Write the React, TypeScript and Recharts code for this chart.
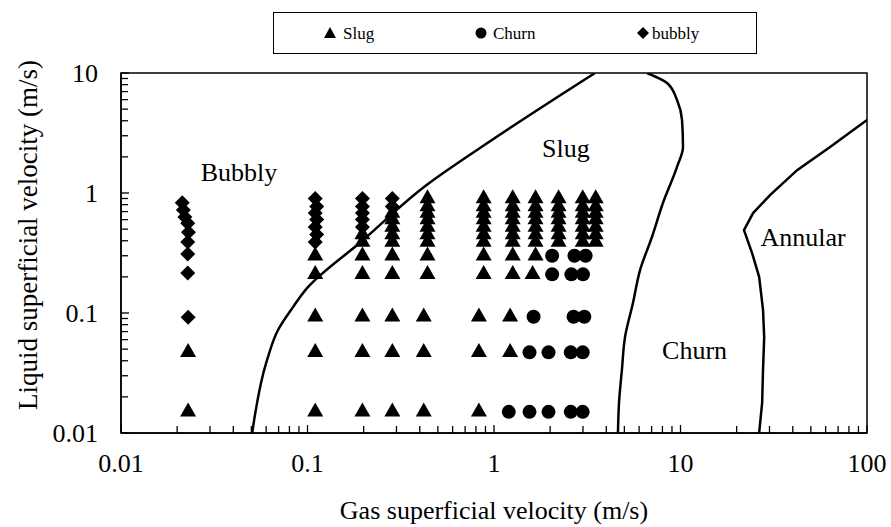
import React from 'react';
import { ComposedChart, Scatter, XAxis, YAxis, ReferenceArea, ReferenceDot } from 'recharts';

const FONT = "'Liberation Serif'";

// ---------- axis ticks ----------
const xMajorTicks = [0.01, 0.1, 1, 10, 100];
const xTickLabels = ['0.01', '0.1', '1', '10', '100'];
const yMajorTicks = [0.01, 0.1, 1, 10];
const yTickLabels = ['0.01', '0.1', '1', '10'];
const minorMultipliers = [2, 3, 4, 5, 6, 7, 8, 9];

// ---------- measured points [Ug, Ul] ----------
const bubblyPoints: number[][] = [
  [0.0213, 0.83], [0.0216, 0.72], [0.022, 0.63], [0.0228, 0.56], [0.023, 0.47],
  [0.0228, 0.39], [0.0228, 0.31], [0.0228, 0.215], [0.0229, 0.092],
  [0.110, 0.90], [0.112, 0.77], [0.110, 0.68], [0.112, 0.60], [0.110, 0.52], [0.112, 0.45], [0.110, 0.39],
  [0.197, 0.90], [0.197, 0.77], [0.197, 0.68], [0.197, 0.60], [0.197, 0.52],
  [0.285, 0.90], [0.285, 0.77],
];

const slugPoints: number[][] = [
  [0.0229, 0.047], [0.0229, 0.015],
  [0.110, 0.30], [0.110, 0.21], [0.110, 0.093], [0.110, 0.047], [0.110, 0.015],
  [0.197, 0.45], [0.197, 0.39], [0.197, 0.30], [0.197, 0.21], [0.197, 0.093], [0.197, 0.047], [0.197, 0.015],
  [0.285, 0.68], [0.285, 0.60], [0.285, 0.52], [0.285, 0.45], [0.285, 0.39], [0.285, 0.30], [0.285, 0.21],
  [0.285, 0.093], [0.285, 0.047], [0.285, 0.015],
  [0.44, 0.90], [0.44, 0.77], [0.44, 0.68], [0.44, 0.60], [0.44, 0.52], [0.44, 0.45], [0.44, 0.39], [0.44, 0.30], [0.44, 0.21],
  [0.42, 0.093], [0.42, 0.047], [0.42, 0.015],
  [0.88, 0.90], [0.88, 0.77], [0.88, 0.68], [0.88, 0.60], [0.88, 0.52], [0.88, 0.45], [0.88, 0.39], [0.88, 0.30], [0.88, 0.21],
  [0.83, 0.093], [0.83, 0.047], [0.83, 0.015],
  [1.26, 0.90], [1.26, 0.77], [1.26, 0.68], [1.26, 0.60], [1.26, 0.52], [1.26, 0.45], [1.26, 0.39], [1.26, 0.30], [1.26, 0.21],
  [1.22, 0.093], [1.22, 0.047],
  [1.67, 0.90], [1.67, 0.77], [1.67, 0.68], [1.67, 0.60], [1.67, 0.52], [1.67, 0.45], [1.67, 0.39], [1.67, 0.30], [1.61, 0.21],
  [2.22, 0.90], [2.22, 0.77], [2.22, 0.68], [2.22, 0.60], [2.22, 0.52], [2.22, 0.45], [2.22, 0.39],
  [2.99, 0.90], [2.99, 0.77], [2.99, 0.68], [2.99, 0.60], [2.99, 0.52], [2.99, 0.45], [2.99, 0.39],
  [3.51, 0.90], [3.51, 0.77], [3.51, 0.68], [3.51, 0.60], [3.51, 0.52], [3.51, 0.45], [3.51, 0.39],
];

const churnPoints: number[][] = [
  [2.05, 0.30], [2.7, 0.30], [3.1, 0.30],
  [2.05, 0.21], [2.6, 0.21], [3.0, 0.21],
  [1.63, 0.093], [2.67, 0.093], [3.05, 0.093],
  [1.55, 0.047], [1.96, 0.047], [2.58, 0.047], [2.99, 0.047],
  [1.2, 0.015], [1.55, 0.015], [1.96, 0.015], [2.58, 0.015], [2.99, 0.015],
];

// ---------- transition boundaries [Ug, Ul] ----------
const bubblySlugBoundary: number[][] = [
  [0.0505, 0.01], [0.0607, 0.0406], [0.0695, 0.0722], [0.0836, 0.112], [0.0994, 0.161],
  [0.196, 0.398], [0.437, 1.17], [0.841, 2.37], [3.48, 10],
];

const slugChurnBoundary: number[][] = [
  [6.61, 10], [8.47, 8.26], [9.58, 5.96], [10.19, 4.06], [10.31, 2.42], [9.58, 1.65],
  [8.05, 0.825], [7.03, 0.43], [6.07, 0.228], [5.56, 0.121], [5.04, 0.063],
  [4.85, 0.0335], [4.68, 0.0178], [4.62, 0.01],
];

const annularBoundary: number[][] = [
  [100, 4.06], [63.4, 2.42], [42.2, 1.55], [30.2, 0.96], [24.5, 0.68], [21.9, 0.49],
  [24.2, 0.316], [26.4, 0.2], [27.7, 0.106], [28.1, 0.063], [27.7, 0.0335], [27.4, 0.0178], [26.4, 0.01],
];

// ---------- region labels [Ug, Ul] ----------
const regionLabels: { text: string; x: number; y: number }[] = [
  { text: 'Bubbly', x: 0.0429, y: 1.5 },
  { text: 'Slug', x: 2.43, y: 2.37 },
  { text: 'Churn', x: 11.9, y: 0.049 },
  { text: 'Annular', x: 45.4, y: 0.43 },
];

const toPts = (a: number[][]) => a.map(([x, y]) => ({ x, y }));

const decadeTicks = (majors: number[]) => {
  const out: number[] = [...majors];
  majors.slice(0, -1).forEach((m) => minorMultipliers.forEach((k) => out.push(+(m * k).toPrecision(6))));
  return out.sort((a, b) => a - b);
};
const xTicks = decadeTicks(xMajorTicks);
const yTicks = decadeTicks(yMajorTicks);

const majorIndex = (v: number, majors: number[]) =>
  majors.findIndex((m) => Math.abs(Math.log10(m) - Math.log10(v)) < 1e-6);

const textStyle = { fontFamily: FONT };

const XTick = (props: any) => {
  const { x, y, payload } = props;
  const idx = majorIndex(payload.value, xMajorTicks);
  return (
    <g>
      <line x1={x} x2={x} y1={y} y2={y - (idx >= 0 ? 8 : 7)} stroke="#000" strokeWidth={1.3} />
      {idx >= 0 && (
        <text x={x} y={y + 30} dy="0.35em" textAnchor="middle" fontSize={26} style={textStyle} fill="#000">
          {xTickLabels[idx]}
        </text>
      )}
    </g>
  );
};

const YTick = (props: any) => {
  const { x, y, payload } = props;
  const idx = majorIndex(payload.value, yMajorTicks);
  return (
    <g>
      <line x1={x} x2={x + (idx >= 0 ? 8 : 7)} y1={y} y2={y} stroke="#000" strokeWidth={1.3} />
      {idx >= 0 && (
        <text x={x - 23} y={y} dy="0.35em" textAnchor="end" fontSize={26} style={textStyle} fill="#000">
          {yTickLabels[idx]}
        </text>
      )}
    </g>
  );
};

const Triangle = (props: any) => {
  const { cx, cy } = props;
  if (cx == null || cy == null) return <g />;
  return <polygon points={`${cx},${cy - 9.3} ${cx - 8},${cy + 4.7} ${cx + 8},${cy + 4.7}`} fill="#000" />;
};
const Dot = (props: any) => {
  const { cx, cy } = props;
  if (cx == null || cy == null) return <g />;
  return <circle cx={cx} cy={cy} r={7} fill="#000" />;
};
const Diamond = (props: any) => {
  const { cx, cy } = props;
  if (cx == null || cy == null) return <g />;
  return <polygon points={`${cx},${cy - 7.5} ${cx + 7.5},${cy} ${cx},${cy + 7.5} ${cx - 7.5},${cy}`} fill="#000" />;
};
const NoShape = () => <g />;

const YTitle = (props: any) => {
  const { viewBox } = props;
  const cx = viewBox.x + 18;
  const cy = viewBox.y + viewBox.height / 2 - 18;
  return (
    <text x={cx} y={cy} transform={`rotate(-90 ${cx} ${cy})`} textAnchor="middle" dy="0.35em" fontSize={27} style={textStyle} fill="#000">
      Liquid superficial velocity (m/s)
    </text>
  );
};

const XTitle = (props: any) => {
  const { viewBox } = props;
  const cx = viewBox.x + viewBox.width / 2;
  const cy = viewBox.y + viewBox.height - 17;
  return (
    <text x={cx} y={cy} textAnchor="middle" dy="0.35em" fontSize={26} style={textStyle} fill="#000">
      Gas superficial velocity (m/s)
    </text>
  );
};

const RegionLabel = (text: string) => (props: any) => {
  const { viewBox } = props;
  const cx = viewBox.x + (viewBox.width || 0) / 2;
  const cy = viewBox.y + (viewBox.height || 0) / 2;
  return (
    <text x={cx} y={cy} textAnchor="middle" dy="0.35em" fontSize={26} style={textStyle} fill="#000">
      {text}
    </text>
  );
};

const legendItems = [
  { name: 'Slug', icon: 'triangle', iconX: 330, textX: 343 },
  { name: 'Churn', icon: 'circle', iconX: 481, textX: 493 },
  { name: 'bubbly', icon: 'diamond', iconX: 643, textX: 652 },
];

const LegendBox = () => (
  <svg width={891} height={60} style={{ position: 'absolute', left: 0, top: 0 }}>
    <rect x={273.5} y={12.5} width={483} height={41} fill="#fff" stroke="#000" strokeWidth={1} />
    {legendItems.map((it) => (
      <g key={it.name}>
        {it.icon === 'triangle' && (
          <polygon points={`${it.iconX},${27} ${it.iconX - 6},${38} ${it.iconX + 6},${38}`} fill="#000" />
        )}
        {it.icon === 'circle' && <circle cx={it.iconX} cy={33} r={5.5} fill="#000" />}
        {it.icon === 'diamond' && (
          <polygon points={`${it.iconX},${27} ${it.iconX + 6},${33} ${it.iconX},${39} ${it.iconX - 6},${33}`} fill="#000" />
        )}
        <text x={it.textX} y={39} fontSize={17} style={textStyle} fill="#000">
          {it.name}
        </text>
      </g>
    ))}
  </svg>
);

export default function App() {
  return (
    <div style={{ position: 'absolute', left: 0, top: 0, width: 891, height: 527, background: '#fff' }}>
      <ComposedChart width={891} height={527} margin={{ top: 73, right: 24, bottom: 0, left: 10 }}>
        <XAxis
          dataKey="x"
          type="number"
          scale="log"
          domain={[0.01, 100]}
          allowDataOverflow
          ticks={xTicks}
          interval={0}
          tick={<XTick />}
          tickLine={false}
          tickSize={0}
          tickMargin={0}
          axisLine={{ stroke: '#000', strokeWidth: 1.5 }}
          height={94}
          label={<XTitle />}
        />
        <YAxis
          dataKey="y"
          type="number"
          scale="log"
          domain={[0.01, 10]}
          allowDataOverflow
          ticks={yTicks}
          interval={0}
          tick={<YTick />}
          tickLine={false}
          tickSize={0}
          tickMargin={0}
          axisLine={{ stroke: '#000', strokeWidth: 1.5 }}
          width={111}
          label={<YTitle />}
        />
        <ReferenceArea x1={0.01} x2={100} y1={0.01} y2={10} fill="none" stroke="#000" strokeWidth={1.5} ifOverflow="visible" />
        <Scatter data={toPts(bubblySlugBoundary)} line={{ stroke: '#000', strokeWidth: 2.5 }} lineJointType="monotoneY" shape={<NoShape />} isAnimationActive={false} />
        <Scatter data={toPts(slugChurnBoundary)} line={{ stroke: '#000', strokeWidth: 2.5 }} lineJointType="monotoneY" shape={<NoShape />} isAnimationActive={false} />
        <Scatter data={toPts(annularBoundary)} line={{ stroke: '#000', strokeWidth: 2.5 }} lineJointType="linear" shape={<NoShape />} isAnimationActive={false} />
        <Scatter name="Slug" data={toPts(slugPoints)} shape={<Triangle />} isAnimationActive={false} />
        <Scatter name="Churn" data={toPts(churnPoints)} shape={<Dot />} isAnimationActive={false} />
        <Scatter name="bubbly" data={toPts(bubblyPoints)} shape={<Diamond />} isAnimationActive={false} />
        {regionLabels.map((r) => (
          <ReferenceDot
            key={r.text}
            x={r.x}
            y={r.y}
            r={0}
            fill="none"
            stroke="none"
            ifOverflow="visible"
            label={RegionLabel(r.text)}
          />
        ))}
      </ComposedChart>
      <LegendBox />
    </div>
  );
}
